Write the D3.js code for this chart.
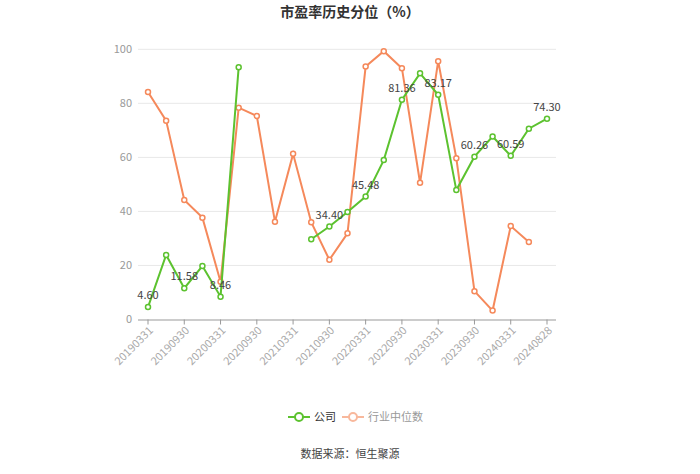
<!DOCTYPE html>
<html><head><meta charset="utf-8">
<script src="https://cdn.jsdelivr.net/npm/d3@7"></script>
<style>body{margin:0;background:#fff;}svg{display:block;font-family:"Microsoft YaHei","Noto Sans CJK SC",sans-serif;}</style>
</head><body><svg id="c" width="700" height="474"></svg>
<script>
const categories = ["20190331","20190630","20190930","20191231","20200331","20200630","20200930","20201231","20210331","20210630","20210930","20211231","20220331","20220630","20220930","20221231","20230331","20230630","20230930","20231231","20240331","20240630","20240828"];
const tickLabels = ["20190331","20190930","20200331","20200930","20210331","20210930","20220331","20220930","20230331","20230930","20240331","20240828"];
const companyValues = [4.60,23.9,11.58,19.8,8.46,93.4,null,null,null,29.7,34.40,39.8,45.48,59.0,81.36,91.1,83.17,47.9,60.26,67.7,60.59,70.6,74.30];
const industryValues = [84.2,73.6,44.2,37.7,14.0,78.4,75.3,36.2,61.3,36.0,22.1,31.9,93.6,99.3,93.0,50.6,95.6,59.7,10.5,3.3,34.6,28.7,null];
const labeledCompany = ["20190331","20190930","20200331","20210930","20220331","20220930","20230331","20230930","20240331","20240828"];
const yTicks = [0,20,40,60,80,100];
const seriesNames = ["公司","行业中位数"];
const colors = ["#5cc22f","#f5895b"];

const svg = d3.select("#c");
const x = d3.scalePoint().domain(categories).range([148,547]);
const y = d3.scaleLinear().domain([0,100]).range([319.5,49.3]);

svg.append("text").attr("x",350).attr("y",17).attr("text-anchor","middle")
  .attr("font-size",14).attr("font-weight","bold").attr("fill","#333").text("市盈率历史分位（%）");

// grid
svg.append("g").selectAll("line").data(yTicks.filter(d=>d>0)).join("line")
  .attr("x1",138).attr("x2",556).attr("y1",d=>y(d)).attr("y2",d=>y(d))
  .attr("stroke","#e8e8e8").attr("stroke-width",1);

// y axis labels
svg.append("g").selectAll("text").data(yTicks).join("text")
  .attr("x",132).attr("y",d=>y(d)).attr("dy","0.35em").attr("text-anchor","end")
  .attr("font-size",11).attr("fill","#999").text(d=>d);

// x axis
svg.append("line").attr("x1",138).attr("x2",556).attr("y1",y(0)+0.5).attr("y2",y(0)+0.5)
  .attr("stroke","#999").attr("stroke-width",1);
const xt = svg.append("g").selectAll("g").data(tickLabels).join("g")
  .attr("transform",d=>`translate(${x(d)},${y(0)})`);
xt.append("line").attr("y1",0).attr("y2",5).attr("stroke","#999");
xt.append("text").attr("transform","translate(3,9) rotate(-45)").attr("text-anchor","end")
  .attr("dy","0.35em").attr("font-size",11).attr("fill","#aaa").text(d=>d);

function drawSeries(vals, color){
  const pts = categories.map((c,i)=>({c,v:vals[i]}));
  const line = d3.line().defined(d=>d.v!=null).x(d=>x(d.c)).y(d=>y(d.v));
  svg.append("path").datum(pts).attr("d",line).attr("fill","none")
    .attr("stroke",color).attr("stroke-width",2);
  svg.append("g").selectAll("circle").data(pts.filter(d=>d.v!=null)).join("circle")
    .attr("cx",d=>x(d.c)).attr("cy",d=>y(d.v)).attr("r",2.5)
    .attr("fill","#fff").attr("stroke",color).attr("stroke-width",1.5);
  return pts;
}
drawSeries(industryValues, colors[1]);
const cp = drawSeries(companyValues, colors[0]);
svg.append("g").selectAll("text").data(cp.filter(d=>labeledCompany.includes(d.c))).join("text")
  .attr("x",d=>x(d.c)).attr("y",d=>y(d.v)-8).attr("text-anchor","middle")
  .attr("font-size",11).attr("fill","#444").text(d=>d.v.toFixed(2));

// legend
const lg = svg.append("g");
const items = [{n:seriesNames[0],c:colors[0],t:"#333",x:288},{n:seriesNames[1],c:"#f8b89c",t:"#999",x:342}];
items.forEach(it=>{
  lg.append("line").attr("x1",it.x).attr("x2",it.x+22).attr("y1",417).attr("y2",417).attr("stroke",it.c).attr("stroke-width",2);
  lg.append("circle").attr("cx",it.x+11).attr("cy",417).attr("r",4).attr("fill","#fff").attr("stroke",it.c).attr("stroke-width",2);
  lg.append("text").attr("x",it.x+26).attr("y",417).attr("dy","0.35em").attr("font-size",11).attr("fill",it.t).text(it.n);
});

svg.append("text").attr("x",350).attr("y",458).attr("text-anchor","middle")
  .attr("font-size",11).attr("fill","#444").text("数据来源：恒生聚源");
</script></body></html>
